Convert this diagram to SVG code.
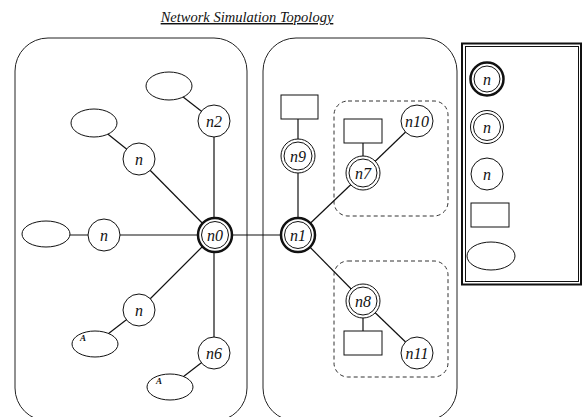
<svg xmlns="http://www.w3.org/2000/svg" width="583" height="417" viewBox="0 0 583 417">
<style>
.panel{fill:none;stroke:#222;stroke-width:1}
.grp{fill:none;stroke:#333;stroke-width:1;stroke-dasharray:4 3}
.e{stroke:#111;stroke-width:1.2}
.c{fill:#fff;stroke:#111;stroke-width:1}
.ct{fill:#fff;stroke:#111;stroke-width:2.5}
.ci{fill:none;stroke:#111;stroke-width:1}
.lbl{font-family:"Liberation Serif",serif;font-style:italic;font-size:16px;text-anchor:middle;fill:#111}
.a{font-family:"Liberation Serif",serif;font-style:italic;font-weight:bold;font-size:9px;fill:#111}
</style>
<rect width="583" height="417" fill="#fff"/>
<text x="247" y="22" font-family="Liberation Serif, serif" font-style="italic" font-size="14.5" text-anchor="middle" text-decoration="underline" fill="#111">Network Simulation Topology</text>
<g id="panels">
<rect class="panel" x="15" y="38" width="232" height="383" rx="33"/>
<rect class="panel" x="263" y="38" width="194" height="383" rx="33"/>
<rect class="grp" x="334" y="101" width="114" height="115" rx="14"/>
<rect class="grp" x="334" y="261" width="114" height="116" rx="14"/>
</g>
<g id="connectors">
<line class="e" x1="169" y1="86" x2="214" y2="121"/>
<line class="e" x1="214" y1="121" x2="214" y2="235"/>
<line class="e" x1="94" y1="123" x2="139" y2="159"/>
<line class="e" x1="139" y1="159" x2="214" y2="235"/>
<line class="e" x1="46" y1="235" x2="214" y2="235"/>
<line class="e" x1="214" y1="235" x2="298" y2="235"/>
<line class="e" x1="214" y1="235" x2="139" y2="310"/>
<line class="e" x1="139" y1="310" x2="95" y2="344"/>
<line class="e" x1="214" y1="235" x2="214" y2="353"/>
<line class="e" x1="214" y1="353" x2="170" y2="387"/>
<line class="e" x1="298" y1="235" x2="298" y2="107"/>
<line class="e" x1="298" y1="235" x2="363" y2="173"/>
<line class="e" x1="363" y1="173" x2="363" y2="131"/>
<line class="e" x1="363" y1="173" x2="417" y2="121"/>
<line class="e" x1="298" y1="235" x2="363" y2="301"/>
<line class="e" x1="363" y1="301" x2="363" y2="342"/>
<line class="e" x1="363" y1="301" x2="417" y2="353"/>
</g>
<g id="e_top"><ellipse class="c" cx="169" cy="86" rx="23" ry="14"/></g>
<g id="e_ul"><ellipse class="c" cx="94" cy="123" rx="23" ry="14"/></g>
<g id="e_left"><ellipse class="c" cx="46" cy="234" rx="24" ry="13"/></g>
<g id="e_a1"><ellipse class="c" cx="95" cy="344" rx="23" ry="13"/><text class="a" x="80" y="341">A</text></g>
<g id="e_a2"><ellipse class="c" cx="170" cy="387" rx="23" ry="13"/><text class="a" x="156" y="384">A</text></g>
<g id="n2"><circle class="c" cx="214" cy="121" r="16"/><text class="lbl" x="214" y="127">n2</text></g>
<g id="n_up"><circle class="c" cx="139" cy="159" r="16"/><text class="lbl" x="139" y="165">n</text></g>
<g id="n_left"><circle class="c" cx="104" cy="235" r="16"/><text class="lbl" x="104" y="241">n</text></g>
<g id="n_low"><circle class="c" cx="139" cy="310" r="16"/><text class="lbl" x="139" y="316">n</text></g>
<g id="n6"><circle class="c" cx="214" cy="353" r="16"/><text class="lbl" x="214" y="359">n6</text></g>
<g id="n0"><circle class="ct" cx="215" cy="235" r="17"/><circle class="ci" cx="215" cy="235" r="13.5"/><text class="lbl" x="215" y="241">n0</text></g>
<g id="n1"><circle class="ct" cx="298" cy="235" r="17"/><circle class="ci" cx="298" cy="235" r="13.5"/><text class="lbl" x="298" y="241">n1</text></g>
<g id="r9"><rect class="c" x="281" y="95" width="37" height="24"/></g>
<g id="n9"><circle class="c" cx="298" cy="156" r="17"/><circle class="ci" cx="298" cy="156" r="14"/><text class="lbl" x="298" y="162">n9</text></g>
<g id="r7"><rect class="c" x="344" y="119" width="38" height="24"/></g>
<g id="n7"><circle class="c" cx="363" cy="173" r="17"/><circle class="ci" cx="363" cy="173" r="14"/><text class="lbl" x="363" y="179">n7</text></g>
<g id="n10"><circle class="c" cx="417" cy="121" r="16"/><text class="lbl" x="417" y="127">n10</text></g>
<g id="n8"><circle class="c" cx="363" cy="301" r="17"/><circle class="ci" cx="363" cy="301" r="14"/><text class="lbl" x="363" y="307">n8</text></g>
<g id="r8"><rect class="c" x="344" y="331" width="38" height="24"/></g>
<g id="n11"><circle class="c" cx="417" cy="353" r="16"/><text class="lbl" x="417" y="359">n11</text></g>
<g id="legend">
<rect x="462" y="43.5" width="119" height="241" fill="#fff" stroke="#111" stroke-width="2"/>
<rect x="465.5" y="46.5" width="113" height="235" fill="none" stroke="#111" stroke-width="1"/>
<circle class="ct" cx="487" cy="79" r="16.5"/><circle class="ci" cx="487" cy="79" r="13"/><text class="lbl" x="487" y="85">n</text>
<circle class="c" cx="487" cy="127" r="16.5"/><circle class="ci" cx="487" cy="127" r="13.5"/><text class="lbl" x="487" y="133">n</text>
<circle class="c" cx="487" cy="174" r="16"/><text class="lbl" x="487" y="180">n</text>
<rect class="c" x="471" y="203" width="38" height="24"/>
<ellipse class="c" cx="491" cy="256" rx="24" ry="14"/>
</g>
</svg>
